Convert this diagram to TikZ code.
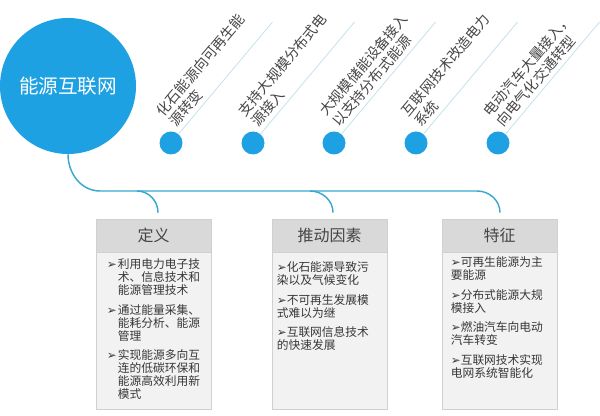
\documentclass[tikz,border=0pt]{standalone}
\usepackage{fontspec}
\setmainfont{Noto Sans CJK SC}
\newfontfamily\symfont{DejaVu Sans}
\usepackage{tikz}
\usetikzlibrary{positioning, calc}
\definecolor{NetBlue}{RGB}{29,161,226}
\definecolor{LinkBlue}{RGB}{56,168,208}
\definecolor{RayGray}{RGB}{196,224,236}
\definecolor{HeadGray}{RGB}{217,217,217}
\definecolor{BodyGray}{RGB}{242,242,242}
\definecolor{EdgeGray}{RGB}{208,208,208}
\definecolor{TagGray}{RGB}{70,70,70}
\definecolor{ItemGray}{RGB}{55,55,55}
\newcommand{\arr}{{\symfont ➢}}
\newcommand{\hb}{\makebox[8.25pt][l]{\arr}}
\newcommand{\hi}{\hspace*{8.25pt}}
\newcommand{\itemgap}{\\[5pt]}

\begin{document}
\begin{tikzpicture}[x=0.75pt, y=0.75pt,
    hub/.style={circle, fill=NetBlue, minimum size=102pt, inner sep=0,
      text=white, font=\fontsize{14.7pt}{14.7pt}\selectfont},
    dot/.style={circle, fill=NetBlue, minimum size=17.25pt, inner sep=0},
    ray/.style={draw=RayGray, line width=0.6pt},
    tag/.style={rotate=50, anchor=south west, inner sep=0, align=left,
      text=TagGray, font=\fontsize{10.6pt}{12.6pt}\selectfont},
    link/.style={draw=LinkBlue, line width=1.1pt},
    head/.style={fill=HeadGray, draw=EdgeGray, line width=0.5pt,
      minimum width=86.25pt, minimum height=24.75pt, inner sep=0,
      text=TagGray, font=\fontsize{12pt}{12pt}\selectfont},
    body/.style={fill=BodyGray, draw=EdgeGray, line width=0.5pt,
      minimum width=86.25pt, minimum height=117.75pt, inner sep=0},
    items/.style={anchor=north west, inner sep=0, align=left,
      text=ItemGray, font=\fontsize{8.8pt}{9.75pt}\selectfont}]

  \useasboundingbox (0,0) rectangle (600,416);

  \node[hub] (hub) at (68,330) {能源互联网};

  % five trends on the rays
  \foreach \x/\la/\lb [count=\i] in {171/化石能源向可再生能/源转变,
      253/支持大规模分布式电/源接入, 334/大规模储能设备接入/以支持分布式能源,
      416/互联网技术改造电力/系统, 498/电动汽车大量接入，/向电气化交通转型}{
    \node[dot] (d\i) at (\x,273) {};
    \draw[ray] (d\i.50) -- ($(d\i.center)+(50:158)$);
    \node[tag] (t\i) at ($(d\i.center)+(50:15)+(140:4)$) {\la\\\lb};
  }

  % three boxes
  \node[head] (def) at (153.5,180.5) {定义};
  \node[body, below=0pt of def] (defbody) {};
  \node[head] (drv) at (329.5,180.5) {推动因素};
  \node[body, below=0pt of drv] (drvbody) {};
  \node[head] (feat) at (499.5,180.5) {特征};
  \node[body, below=0pt of feat] (featbody) {};

  \node[items] (deftext) at ($(defbody.north west)+(11,-6)$) {%
    \hb 利用电力电子技\\ \hi 术、信息技术和\\ \hi 能源管理技术\itemgap
    \hb 通过能量采集、\\ \hi 能耗分析、能源\\ \hi 管理\itemgap
    \hb 实现能源多向互\\ \hi 连的低碳环保和\\ \hi 能源高效利用新\\ \hi 模式};
  \node[items] (drvtext) at ($(drvbody.north west)+(5,-9)$) {%
    \arr 化石能源导致污\\ 染以及气候变化\itemgap
    \arr 不可再生发展模\\ 式难以为继\itemgap
    \arr 互联网信息技术\\ 的快速发展};
  \node[items] (feattext) at ($(featbody.north west)+(9,-4)$) {%
    \arr 可再生能源为主\\ 要能源\itemgap
    \arr 分布式能源大规\\ 模接入\itemgap
    \arr 燃油汽车向电动\\ 汽车转变\itemgap
    \arr 互联网技术实现\\ 电网系统智能化};

  % connectors
  \coordinate (busw) at (100,225);
  \coordinate (buse) at (477,225);
  \coordinate (defjoin) at (137,225);
  \coordinate (drvjoin) at (310,225);
  \draw[link] (hub.south) to[out=-90, in=180] (busw) -- (buse)
    to[out=0, in=90] ($(feat.north)+(0.5,6)$);
  \draw[link] (defjoin) to[out=0, in=90] ($(def.north)+(4.5,6)$);
  \draw[link] (drvjoin) to[out=0, in=90] ($(drv.north)+(3.5,6)$);
\end{tikzpicture}
\end{document}
